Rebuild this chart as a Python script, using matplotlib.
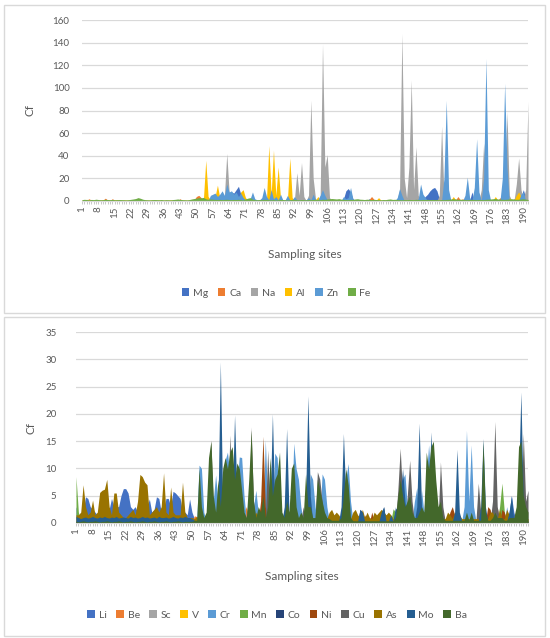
import matplotlib
matplotlib.use("Agg")
import matplotlib.pyplot as plt
from matplotlib.patches import Patch, Rectangle

plt.rcParams['font.family'] = ['Lato', 'DejaVu Sans']

# ---------------- data (one value per sampling site, 1..192) ----------------
sites = list(range(1, 193))
tick_sites = sites[::7]

top_names = ['Mg', 'Ca', 'Na', 'Al', 'Zn', 'Fe']
top_colours = ['#4472C4', '#ED7D31', '#A5A5A5', '#FFC000', '#5B9BD5', '#70AD47']

mg = [
    0.5, 0.5, 0.5, 0.5, 0.5, 0.5, 0.5, 0.5, 0.5, 0.5, 0.5, 0.5, 0.5, 0.5, 0.5, 0.5,
    0.5, 0.5, 0.5, 0.5, 0.5, 0.5, 0.5, 0.5, 0.5, 0.5, 0.5, 0.5, 0.5, 0.5, 0.5, 0.5,
    0.5, 0.5, 0.5, 0.5, 0.5, 0.5, 0.5, 0.5, 0.5, 0.5, 0.5, 0.5, 0.5, 0.5, 0.5, 0.5,
    0.5, 0.5, 0.5, 0.5, 0.5, 0.5, 0.5, 0.5, 0.5, 0.5, 0.5, 0.5, 0.5, 0.5, 0.5, 6,
    8, 7, 10, 13, 6, 2, 0.5, 0.5, 0.5, 0.5, 0.5, 0.5, 0.5, 0.5, 4, 0.5,
    0.5, 0.5, 0.5, 0.5, 0.5, 0.5, 0.5, 0.5, 0.5, 0.5, 0.5, 0.5, 0.5, 0.5, 0.5, 0.5,
    0.5, 0.5, 0.5, 0.5, 0.5, 0.5, 0.5, 0.5, 0.5, 0.5, 0.5, 0.5, 0.5, 0.5, 0.5, 0.5,
    2, 9, 11, 8, 2, 0.5, 0.5, 0.5, 0.5, 0.5, 0.5, 2, 0.5, 0.5, 0.5, 0.5,
    0.5, 0.5, 0.5, 0.5, 0.5, 0.5, 0.5, 0.5, 0.5, 0.5, 0.5, 0.5, 0.5, 0.5, 0.5, 0.5,
    1, 3, 2, 4, 6, 9, 11, 12, 9, 2, 0.5, 0.5, 0.5, 0.5, 0.5, 0.5,
    0.5, 0.5, 0.5, 0.5, 0.5, 0.5, 0.5, 8, 0.5, 0.5, 0.5, 0.5, 0.5, 0.5, 0.5, 0.5,
    0.5, 0.5, 0.5, 0.5, 0.5, 0.5, 0.5, 0.5, 0.5, 0.5, 0.5, 0.5, 4, 10, 3, 0.5,
]
ca = [
    0.5, 0.6, 0.8, 2, 0.8, 0.5, 0.6, 0.5, 0.7, 0.9, 2.5, 0.8, 0.6, 2, 0.7, 0.5,
    0.5, 0.5, 0.5, 0.5, 0.5, 0.5, 0.5, 0.5, 0.5, 0.5, 0.5, 0.5, 0.5, 0.5, 0.5, 0.5,
    0.5, 0.5, 0.5, 0.5, 0.5, 0.5, 0.5, 0.5, 0.5, 0.5, 2, 0.5, 0.5, 0.5, 0.5, 0.5,
    1, 4, 5, 3, 1, 0.5, 0.5, 0.5, 0.5, 0.5, 0.5, 0.5, 0.5, 0.5, 0.5, 0.5,
    0.5, 0.5, 0.5, 0.5, 0.5, 0.5, 0.5, 0.5, 0.5, 0.5, 0.5, 0.5, 0.5, 0.5, 0.5, 0.5,
    0.5, 0.5, 0.5, 0.5, 0.5, 0.5, 0.5, 0.5, 0.5, 0.5, 0.5, 0.5, 0.5, 0.5, 0.5, 0.5,
    0.5, 0.5, 0.5, 0.5, 0.5, 0.5, 0.5, 0.5, 0.5, 0.5, 0.5, 0.5, 0.5, 0.5, 0.5, 0.5,
    0.5, 0.5, 0.5, 0.5, 0.5, 0.5, 0.5, 0.5, 0.5, 0.5, 0.5, 1.5, 4, 1.5, 0.5, 0.5,
    0.5, 0.5, 0.5, 0.5, 0.5, 0.5, 0.5, 0.5, 0.5, 0.5, 0.5, 0.5, 0.5, 0.5, 0.5, 0.5,
    0.5, 0.5, 0.5, 0.5, 0.5, 0.5, 0.5, 0.5, 0.5, 0.5, 0.5, 0.5, 0.5, 0.5, 0.5, 3,
    1, 4, 1, 2, 0.5, 0.5, 0.5, 0.5, 0.5, 0.5, 0.5, 0.5, 0.5, 0.5, 0.5, 0.5,
    0.5, 3, 0.5, 3, 0.5, 0.5, 0.5, 0.5, 0.5, 2, 0.5, 0.5, 0.5, 0.5, 0.5, 0.5,
]
na = [
    0.3, 0.3, 0.3, 0.3, 0.3, 0.3, 0.3, 0.3, 0.3, 0.3, 0.3, 0.3, 0.3, 0.3, 0.3, 0.3,
    0.3, 0.3, 0.3, 0.3, 0.3, 0.3, 0.3, 0.3, 0.3, 0.3, 0.3, 0.3, 0.3, 0.3, 0.3, 0.3,
    0.3, 0.3, 0.3, 0.3, 0.3, 0.3, 0.3, 0.3, 0.3, 0.3, 0.3, 0.3, 0.3, 0.3, 0.3, 0.3,
    0.3, 0.3, 0.3, 0.3, 0.3, 0.3, 0.3, 0.3, 0.3, 0.3, 0.3, 0.3, 0.3, 5, 42, 8,
    0.3, 0.3, 0.3, 0.3, 0.3, 0.3, 0.3, 0.3, 0.3, 0.3, 0.3, 0.3, 0.3, 0.3, 0.3, 0.3,
    0.3, 0.3, 0.3, 0.3, 0.3, 0.3, 0.3, 0.3, 0.3, 0.3, 0.3, 2, 25, 5, 34, 4,
    0.3, 5, 89, 20, 2, 0.3, 5, 139, 30, 41, 3, 0.3, 0.3, 0.3, 0.3, 0.3,
    0.3, 0.3, 0.3, 0.3, 0.3, 0.3, 0.3, 0.3, 0.3, 0.3, 0.3, 0.3, 0.3, 0.3, 0.3, 0.3,
    0.3, 0.3, 0.3, 0.3, 0.3, 0.3, 0.3, 1, 10, 148, 20, 3, 30, 107, 10, 48,
    5, 0.3, 0.3, 0.3, 0.3, 0.3, 0.3, 0.3, 0.3, 5, 66, 5, 0.3, 0.3, 0.3, 0.3,
    0.3, 0.3, 0.3, 0.3, 0.3, 0.3, 0.3, 0.3, 0.3, 0.3, 0.3, 10, 51, 20, 0.3, 0.3,
    0.3, 0.3, 0.3, 0.3, 0.3, 8, 79, 5, 0.3, 0.3, 15, 38, 10, 2, 10, 88,
]
al = [
    0.8, 0.9, 1.5, 0.8, 0.7, 0.8, 1.0, 0.8, 0.7, 0.9, 0.8, 1.2, 0.8, 0.7, 0.9, 1.2,
    0.8, 0.7, 0.9, 0.8, 0.8, 1.0, 0.8, 0.7, 0.8, 0.9, 0.8, 0.8, 0.7, 0.8, 0.9, 0.8,
    0.8, 0.9, 0.8, 0.7, 0.8, 0.8, 1.0, 0.8, 0.7, 0.8, 0.9, 0.8, 0.8, 0.7, 0.8, 0.9,
    0.8, 0.8, 0.8, 0.8, 2, 36, 4, 1, 1, 4, 14, 3, 0.8, 0.8, 0.8, 0.8,
    0.8, 0.8, 0.8, 0.8, 8, 10, 3, 0.8, 0.8, 0.8, 0.8, 0.8, 0.8, 0.8, 0.8, 0.8,
    49, 6, 45, 5, 30, 3, 1, 1, 2, 38, 3, 0.8, 0.8, 0.8, 0.8, 0.8,
    0.8, 0.8, 0.8, 0.8, 0.8, 4, 0.8, 0.8, 0.8, 0.8, 0.8, 0.8, 0.8, 0.8, 0.8, 0.8,
    0.8, 0.8, 0.8, 0.8, 0.8, 0.8, 0.8, 0.8, 0.8, 0.8, 0.8, 0.8, 0.8, 0.8, 0.8, 3,
    0.8, 0.8, 0.8, 0.8, 0.8, 0.8, 0.8, 0.8, 0.8, 0.8, 0.8, 0.8, 0.8, 0.8, 0.8, 0.8,
    0.8, 0.8, 0.8, 0.8, 0.8, 0.8, 0.8, 0.8, 0.8, 0.8, 0.8, 0.8, 0.8, 0.8, 0.8, 4,
    0.8, 0.8, 0.8, 0.8, 0.8, 0.8, 0.8, 0.8, 0.8, 0.8, 0.8, 0.8, 0.8, 0.8, 0.8, 0.8,
    0.8, 4, 0.8, 0.8, 0.8, 0.8, 0.8, 3, 0.8, 0.8, 5, 8, 4, 0.8, 0.8, 0.8,
]
zn = [
    0.3, 0.3, 0.3, 0.3, 0.3, 0.3, 0.3, 0.3, 0.3, 0.3, 0.3, 0.3, 0.3, 0.3, 0.3, 0.3,
    0.3, 0.3, 0.3, 0.3, 0.3, 0.3, 0.3, 0.3, 0.3, 0.3, 0.3, 0.3, 0.3, 0.3, 0.3, 0.3,
    0.3, 0.3, 0.3, 0.3, 0.3, 0.3, 0.3, 0.3, 0.3, 0.3, 0.3, 0.3, 0.3, 0.3, 0.3, 0.3,
    0.3, 0.3, 0.3, 0.3, 0.3, 0.3, 0.3, 5, 6, 7, 4, 6, 9, 5, 15, 8,
    9, 6, 8, 4, 7, 3, 1, 1, 2, 8, 2, 1, 1, 3, 12, 4,
    1, 10, 2, 4, 1, 6, 1, 1, 5, 1, 1, 4, 1, 1, 1, 1,
    1, 3, 1, 6, 1, 1, 5, 10, 5, 1, 0.5, 0.5, 0.5, 0.5, 0.5, 0.5,
    4, 2, 3, 12, 2, 0.5, 0.5, 0.5, 0.5, 0.5, 0.5, 0.5, 0.5, 0.5, 0.5, 0.5,
    0.3, 0.3, 0.3, 0.3, 0.3, 0.3, 0.3, 3, 11, 5, 0.3, 0.3, 0.3, 0.3, 0.3, 0.3,
    2, 15, 6, 3, 0.3, 0.3, 0.3, 0.3, 0.3, 0.3, 0.3, 20, 89, 10, 0.3, 0.3,
    0.3, 0.3, 0.3, 0.3, 5, 21, 3, 0.3, 12, 55, 8, 0.3, 20, 126, 10, 0.3,
    0.3, 0.3, 0.3, 0.3, 20, 104, 30, 0.3, 0.3, 0.3, 0.3, 0.3, 6, 8, 0.3, 0.3,
]
fe = [
    1.2, 1.5, 1.3, 1.0, 1.4, 1.2, 1.6, 1.3, 1.1, 1.2, 1.5, 1.3, 1.2, 1.4, 1.1, 1.2,
    1.3, 1.2, 1.1, 1.0, 1.2, 1.5, 1.8, 2.2, 3.0, 2.4, 1.6, 1.2, 1.1, 1.0, 1.2, 1.3,
    1.2, 1.1, 1.3, 1.0, 1.2, 1.1, 1.0, 1.3, 1.5, 1.8, 1.4, 1.2, 1.1, 1.0, 1.3, 1.8,
    2.2, 2.5, 3.0, 2.8, 3.2, 2.0, 1.5, 1.8, 1.6, 1.4, 1.3, 1.5, 1.2, 1.4, 1.5, 1.3,
    1.2, 1.4, 1.3, 1.5, 1.2, 1.0, 1.8, 2.5, 3.0, 1.6, 1.2, 1.1, 1.3, 1.2, 1.5, 1.4,
    1.2, 1.1, 1.3, 1.0, 1.2, 1.4, 1.3, 1.1, 1.0, 1.2, 1.4, 1.3, 1.2, 1.1, 1.3, 1.2,
    1.1, 1.3, 1.2, 1.4, 1.5, 1.3, 1.2, 1.6, 1.4, 1.8, 2.0, 2.2, 2.0, 1.8, 2.1, 1.6,
    1.4, 1.3, 1.2, 1.5, 1.4, 1.8, 2.0, 1.6, 1.5, 1.3, 1.6, 1.4, 1.2, 1.5, 1.3, 1.2,
    1.1, 1.3, 1.2, 1.6, 1.8, 1.4, 1.5, 1.3, 1.2, 1.1, 1.3, 1.2, 1.4, 1.3, 1.2, 1.5,
    1.3, 1.2, 1.4, 1.3, 1.5, 1.2, 1.4, 1.3, 1.2, 1.1, 1.3, 1.2, 1.4, 1.5, 1.8, 2.0,
    1.8, 1.5, 1.6, 1.4, 1.3, 1.2, 1.4, 1.5, 1.3, 1.2, 1.4, 1.3, 1.2, 1.5, 1.6, 1.8,
    2.0, 2.2, 1.8, 1.6, 1.5, 1.4, 1.6, 1.8, 2.0, 1.7, 1.5, 1.6, 1.8, 2.0, 1.6, 1.4,
]

bot_names = ['Li', 'Be', 'Sc', 'V', 'Cr', 'Mn', 'Co', 'Ni', 'Cu', 'As', 'Mo', 'Ba']
bot_colours = ['#4472C4', '#ED7D31', '#A5A5A5', '#FFC000', '#5B9BD5', '#70AD47',
               '#264478', '#9E480E', '#636363', '#997300', '#255E91', '#43682B']

li = [
    3, 1.5, 1.5, 2, 4.8, 4.5, 3, 2.5, 2, 1.5, 2, 2, 1.5, 2, 2.5, 4.5,
    3, 3, 3, 5, 6.3, 6.3, 5.5, 3, 2.5, 3, 2, 2, 2, 2, 3, 4.4,
    2, 2.5, 4.8, 4.5, 2, 2, 4.5, 4.5, 3, 5.8, 5.5, 5, 4.5, 2, 2, 1.5,
    4.4, 2, 0.8, 0.5, 0.5, 0.5, 0.5, 0.5, 0.5, 0.5, 0.5, 0.5, 0.5, 0.5, 0.5, 0.5,
    0.5, 0.5, 0.5, 0.5, 0.5, 0.5, 0.5, 0.5, 0.5, 0.5, 0.5, 0.5, 0.5, 0.5, 0.5, 0.5,
    0.5, 0.5, 0.5, 0.5, 0.5, 0.5, 0.5, 0.5, 0.5, 0.5, 0.5, 0.5, 0.5, 0.5, 0.5, 0.5,
    0.5, 0.5, 0.5, 0.5, 0.5, 0.5, 0.5, 0.5, 0.5, 0.5, 0.5, 0.5, 0.5, 0.5, 0.5, 0.5,
    0.5, 0.5, 0.5, 0.5, 0.5, 0.5, 0.5, 0.5, 0.5, 0.5, 0.5, 0.5, 0.5, 0.5, 0.5, 0.5,
    0.5, 0.5, 0.5, 0.5, 0.5, 0.5, 0.5, 0.5, 0.5, 0.5, 0.5, 0.5, 0.5, 0.5, 0.5, 0.5,
    0.5, 0.5, 0.5, 0.5, 0.5, 0.5, 0.5, 0.5, 0.5, 0.5, 0.5, 0.5, 0.5, 0.5, 0.5, 0.5,
    0.5, 0.5, 0.5, 0.5, 0.5, 0.5, 0.5, 0.5, 0.5, 0.5, 0.5, 0.5, 0.5, 0.5, 0.5, 0.5,
    0.5, 0.5, 0.5, 0.5, 0.5, 0.5, 0.5, 2, 5, 2, 0.5, 0.5, 0.5, 0.5, 0.5, 0.5,
]
be = [
    0.2, 0.2, 0.2, 0.2, 0.2, 0.2, 0.2, 0.2, 0.2, 0.2, 0.2, 0.2, 0.2, 0.2, 0.2, 0.2,
    0.2, 0.2, 0.2, 0.2, 0.2, 0.2, 0.2, 0.2, 0.2, 0.2, 0.2, 0.2, 0.2, 0.2, 0.2, 0.2,
    0.2, 0.2, 0.2, 0.2, 0.2, 0.2, 0.2, 0.2, 0.2, 0.2, 0.2, 0.2, 0.2, 0.2, 0.2, 0.2,
    0.2, 0.2, 1.3, 1.2, 0.2, 0.2, 0.2, 1.5, 0.2, 0.2, 0.2, 0.2, 0.2, 0.2, 0.2, 0.2,
    0.2, 0.2, 0.2, 0.2, 0.2, 0.2, 0.2, 2, 3, 1, 0.2, 0.2, 0.2, 0.2, 0.2, 0.2,
    0.2, 0.2, 0.2, 0.2, 0.2, 0.2, 0.2, 0.2, 0.2, 0.2, 0.2, 0.2, 0.2, 0.2, 0.2, 0.2,
    0.2, 0.2, 0.2, 0.2, 0.2, 0.2, 0.2, 0.2, 0.2, 0.2, 0.2, 0.2, 0.2, 0.2, 0.2, 0.2,
    0.2, 0.2, 0.2, 0.2, 0.2, 0.2, 0.2, 0.2, 0.2, 0.2, 0.2, 0.2, 0.2, 0.2, 0.2, 0.2,
    0.2, 0.2, 0.2, 0.2, 0.2, 0.2, 0.2, 0.2, 0.2, 0.2, 0.2, 0.2, 0.2, 0.2, 0.2, 0.2,
    0.2, 0.2, 0.2, 0.2, 0.2, 0.2, 0.2, 0.2, 0.2, 0.2, 0.2, 0.2, 0.2, 0.2, 0.2, 0.2,
    0.2, 0.2, 0.2, 0.2, 0.2, 0.2, 0.2, 0.2, 0.2, 0.2, 0.2, 0.2, 0.2, 0.2, 0.2, 0.2,
    0.2, 0.2, 0.2, 0.2, 0.2, 0.2, 0.2, 0.2, 0.2, 0.2, 0.2, 0.2, 0.2, 0.2, 0.2, 0.2,
]
sc = [
    0.3, 0.3, 0.3, 0.3, 0.3, 0.3, 0.3, 0.3, 0.3, 0.3, 0.3, 0.3, 0.3, 0.3, 0.3, 0.3,
    0.3, 0.3, 0.3, 0.3, 0.3, 0.3, 0.3, 0.3, 0.3, 0.3, 0.3, 0.3, 0.3, 0.3, 0.3, 0.3,
    0.3, 0.3, 0.3, 0.3, 0.3, 0.3, 0.3, 0.3, 0.3, 0.3, 0.3, 0.3, 0.3, 0.3, 0.3, 0.3,
    0.3, 0.3, 0.3, 0.3, 0.3, 0.3, 0.3, 0.3, 0.3, 0.3, 0.3, 0.3, 0.3, 0.3, 0.3, 0.3,
    0.3, 0.3, 0.3, 0.3, 0.3, 0.3, 0.3, 0.3, 0.3, 0.3, 0.3, 0.3, 0.3, 0.3, 0.3, 0.3,
    0.3, 0.3, 0.3, 0.3, 0.3, 0.3, 0.3, 0.3, 0.3, 0.3, 0.3, 0.3, 0.3, 0.3, 0.3, 0.3,
    0.3, 0.3, 0.3, 0.3, 0.3, 0.3, 0.3, 0.3, 0.3, 0.3, 0.3, 0.3, 0.3, 0.3, 0.3, 0.3,
    0.3, 0.3, 0.3, 0.3, 0.3, 0.3, 0.3, 0.3, 0.3, 0.3, 0.3, 0.3, 0.3, 0.3, 0.3, 0.3,
    0.3, 0.3, 0.3, 0.3, 0.3, 0.3, 0.3, 0.3, 0.3, 0.3, 0.3, 0.3, 0.3, 0.3, 0.3, 0.3,
    0.3, 0.3, 0.3, 0.3, 0.3, 0.3, 0.3, 0.3, 0.3, 0.3, 0.3, 0.3, 0.3, 0.3, 0.3, 0.3,
    0.3, 0.3, 0.3, 0.3, 0.3, 0.3, 0.3, 0.3, 0.3, 0.3, 0.3, 0.3, 0.3, 0.3, 0.3, 0.3,
    0.3, 0.3, 0.3, 0.3, 0.3, 0.3, 0.3, 0.3, 0.3, 0.3, 0.3, 0.3, 0.3, 0.3, 0.3, 0.3,
]
v = [
    0.3, 0.3, 0.3, 0.3, 0.3, 0.3, 0.3, 0.3, 0.3, 0.3, 0.3, 0.3, 0.3, 0.3, 0.3, 0.3,
    0.3, 0.3, 0.3, 0.3, 0.3, 0.3, 0.3, 0.3, 0.3, 0.3, 0.3, 0.3, 0.3, 0.3, 0.3, 0.3,
    0.3, 0.3, 0.3, 0.3, 0.3, 0.3, 0.3, 0.3, 0.3, 0.3, 0.3, 0.3, 0.3, 0.3, 0.3, 0.3,
    0.3, 0.3, 0.3, 0.3, 0.3, 0.3, 0.3, 0.3, 0.3, 0.3, 0.3, 0.3, 0.3, 0.3, 0.3, 0.3,
    0.3, 0.3, 0.3, 0.3, 0.3, 0.3, 0.3, 0.3, 0.3, 0.3, 0.3, 0.3, 0.3, 0.3, 0.3, 0.3,
    0.3, 0.3, 0.3, 0.3, 0.3, 0.3, 0.3, 0.3, 0.3, 0.3, 0.3, 0.3, 0.3, 0.3, 0.3, 0.3,
    0.3, 0.3, 0.3, 0.3, 0.3, 0.3, 0.3, 0.3, 0.3, 0.3, 0.3, 0.3, 0.3, 0.3, 0.3, 0.3,
    0.3, 0.3, 0.3, 0.3, 0.3, 0.3, 0.3, 0.3, 0.3, 0.3, 0.3, 0.3, 0.3, 0.3, 0.3, 0.3,
    0.3, 0.3, 0.3, 1.5, 0.3, 0.3, 0.3, 0.3, 0.3, 0.3, 0.3, 0.3, 0.3, 0.3, 0.3, 0.3,
    0.3, 0.3, 0.3, 0.3, 0.3, 0.3, 0.3, 0.3, 0.3, 0.3, 0.3, 0.3, 0.3, 0.3, 0.3, 0.3,
    0.3, 0.3, 0.3, 0.3, 0.3, 0.3, 0.3, 0.3, 0.3, 0.3, 0.3, 0.3, 0.3, 0.3, 0.3, 0.3,
    0.3, 0.3, 0.3, 0.3, 0.3, 0.3, 0.3, 0.3, 0.3, 0.3, 0.3, 0.3, 0.3, 0.3, 0.3, 0.3,
]
cr = [
    0.4, 0.4, 0.4, 0.4, 0.4, 0.4, 0.4, 0.4, 0.4, 0.4, 0.4, 0.4, 0.4, 0.4, 0.4, 0.4,
    0.4, 0.4, 0.4, 0.4, 0.4, 0.4, 0.4, 0.4, 0.4, 0.4, 0.4, 0.4, 0.4, 0.4, 0.4, 0.4,
    0.4, 0.4, 0.4, 0.4, 0.4, 0.4, 0.4, 0.4, 0.4, 0.4, 0.4, 0.4, 0.4, 0.4, 0.4, 0.4,
    0.4, 0.4, 0.4, 0.4, 10.6, 10, 2, 0.4, 0.4, 0.4, 4, 8.8, 4, 0.4, 8, 11.5,
    13, 9, 12, 4, 7, 12.1, 12, 5, 0.4, 0.4, 0.4, 3, 6, 2, 0.4, 0.4,
    15.2, 4, 0.4, 0.4, 12.8, 12, 4, 0.4, 0.4, 0.4, 0.4, 0.4, 14.6, 10, 8, 3,
    0.4, 0.4, 0.4, 9, 8, 3, 0.4, 0.4, 9, 8, 3, 0.4, 0.4, 0.4, 0.4, 0.4,
    0.4, 0.4, 8, 10.9, 4, 0.4, 0.4, 0.4, 0.4, 0.4, 0.4, 0.4, 0.4, 0.4, 0.4, 0.4,
    0.4, 0.4, 0.4, 0.4, 0.4, 0.4, 0.4, 0.4, 0.4, 0.4, 8, 9, 3, 0.4, 0.4, 4,
    6.5, 0.4, 6, 2, 8, 14.3, 8, 0.4, 0.4, 0.4, 0.4, 2, 0.4, 0.4, 0.4, 0.4,
    0.4, 0.4, 0.4, 0.4, 3, 17, 4, 14.3, 3, 0.4, 0.4, 0.4, 0.4, 0.4, 0.4, 0.4,
    0.4, 0.4, 0.4, 0.4, 0.4, 0.4, 3, 0.4, 3, 0.4, 2, 0.4, 0.4, 0.4, 0.4, 0.4,
]
mn = [
    8.5, 2, 0.3, 0.3, 0.3, 0.3, 0.3, 0.3, 0.3, 0.3, 0.3, 0.3, 0.3, 0.3, 0.3, 0.3,
    0.3, 0.3, 0.3, 0.3, 0.3, 0.3, 0.3, 0.3, 0.3, 0.3, 0.3, 0.3, 0.3, 0.3, 0.3, 0.3,
    0.3, 0.3, 0.3, 0.3, 0.3, 0.3, 0.3, 0.3, 0.3, 0.3, 0.3, 0.3, 0.3, 0.3, 0.3, 0.3,
    0.3, 0.3, 0.3, 0.3, 0.3, 0.3, 0.3, 0.3, 0.3, 0.3, 0.3, 0.3, 0.3, 0.3, 0.3, 0.3,
    0.3, 0.3, 0.3, 0.3, 0.3, 0.3, 0.3, 0.3, 0.3, 0.3, 0.3, 0.3, 0.3, 0.3, 0.3, 0.3,
    0.3, 0.3, 0.3, 0.3, 0.3, 0.3, 0.3, 0.3, 0.3, 0.3, 0.3, 0.3, 0.3, 0.3, 0.3, 0.3,
    0.3, 0.3, 0.3, 0.3, 0.3, 0.3, 0.3, 0.3, 0.3, 0.3, 0.3, 0.3, 0.3, 0.3, 0.3, 0.3,
    0.3, 0.3, 0.3, 0.3, 0.3, 0.3, 0.3, 0.3, 0.3, 0.3, 0.3, 0.3, 0.3, 0.3, 0.3, 0.3,
    0.3, 0.3, 0.3, 0.3, 0.3, 0.3, 2.6, 2, 0.3, 0.3, 0.3, 0.3, 0.3, 0.3, 0.3, 0.3,
    0.3, 0.3, 0.3, 0.3, 0.3, 0.3, 0.3, 0.3, 0.3, 0.3, 0.3, 0.3, 0.3, 0.3, 0.3, 0.3,
    0.3, 0.3, 0.3, 0.3, 0.3, 0.3, 0.3, 0.3, 0.3, 0.3, 0.3, 0.3, 0.3, 0.3, 0.3, 0.3,
    0.3, 0.3, 0.3, 3, 7.3, 2, 0.3, 0.3, 0.3, 0.3, 0.3, 0.3, 0.3, 0.3, 0.3, 0.3,
]
co = [
    0.2, 0.2, 0.2, 0.2, 0.2, 0.2, 0.2, 0.2, 0.2, 0.2, 0.2, 0.2, 0.2, 0.2, 0.2, 0.2,
    0.2, 0.2, 0.2, 0.2, 0.2, 0.2, 0.2, 0.2, 0.2, 0.2, 0.2, 0.2, 0.2, 0.2, 0.2, 0.2,
    0.2, 0.2, 0.2, 0.2, 0.2, 0.2, 0.2, 0.2, 0.2, 0.2, 0.2, 0.2, 0.2, 0.2, 0.2, 0.2,
    0.2, 0.2, 0.2, 0.2, 0.2, 0.2, 0.2, 0.2, 0.2, 0.2, 0.2, 0.2, 0.2, 0.2, 0.2, 0.2,
    0.2, 0.2, 0.2, 0.2, 0.2, 0.2, 0.2, 0.2, 0.2, 0.2, 0.2, 0.2, 0.2, 0.2, 0.2, 0.2,
    0.2, 0.2, 0.2, 0.2, 0.2, 0.2, 0.2, 0.2, 0.2, 0.2, 0.2, 0.2, 0.2, 0.2, 0.2, 0.2,
    0.2, 0.2, 0.2, 0.2, 0.2, 0.2, 0.2, 0.2, 0.2, 0.2, 0.2, 0.2, 0.2, 0.2, 0.2, 0.2,
    0.2, 0.2, 0.2, 0.2, 0.2, 0.2, 0.2, 0.2, 2.5, 2, 0.2, 0.2, 0.2, 0.2, 0.2, 0.2,
    0.2, 0.2, 3, 0.2, 0.2, 0.2, 0.2, 2.5, 3, 0.2, 0.2, 0.2, 0.2, 0.2, 0.2, 0.2,
    0.2, 0.2, 0.2, 0.2, 0.2, 0.2, 0.2, 0.2, 0.2, 0.2, 0.2, 0.2, 0.2, 0.2, 0.2, 0.2,
    0.2, 0.2, 0.2, 0.2, 0.2, 0.2, 0.2, 0.2, 0.2, 0.2, 0.2, 0.2, 0.2, 0.2, 0.2, 0.2,
    0.2, 0.2, 0.2, 0.2, 0.2, 0.2, 0.2, 0.2, 3, 0.2, 0.2, 0.2, 0.2, 0.2, 0.2, 0.2,
]
ni = [
    0.2, 0.2, 0.2, 0.2, 0.2, 0.2, 0.2, 0.2, 0.2, 0.2, 0.2, 0.2, 0.2, 0.2, 0.2, 0.2,
    0.2, 0.2, 0.2, 0.2, 0.2, 0.2, 0.2, 0.2, 0.2, 0.2, 0.2, 0.2, 0.2, 0.2, 0.2, 0.2,
    0.2, 0.2, 0.2, 0.2, 0.2, 0.2, 0.2, 0.2, 0.2, 0.2, 0.2, 0.2, 0.2, 0.2, 0.2, 0.2,
    0.2, 0.2, 0.2, 0.2, 0.2, 0.2, 0.2, 0.2, 0.2, 0.2, 0.2, 0.2, 0.2, 0.2, 0.2, 0.2,
    0.2, 0.2, 0.2, 0.2, 0.2, 0.2, 0.2, 0.2, 0.2, 0.2, 0.2, 0.2, 0.2, 0.2, 4, 15.9,
    3, 0.2, 0.2, 0.2, 0.2, 0.2, 0.2, 0.2, 0.2, 0.2, 0.2, 0.2, 0.2, 0.2, 0.2, 0.2,
    0.2, 0.2, 0.2, 0.2, 0.2, 0.2, 0.2, 0.2, 0.2, 0.2, 0.2, 0.2, 0.2, 0.2, 0.2, 0.2,
    0.2, 0.2, 0.2, 0.2, 0.2, 0.2, 1.5, 0.2, 0.2, 0.2, 1.5, 0.2, 0.2, 2, 0.2, 0.2,
    0.2, 0.2, 0.2, 0.2, 0.2, 0.2, 0.2, 0.2, 0.2, 0.2, 0.2, 0.2, 0.2, 0.2, 0.2, 0.2,
    0.2, 0.2, 0.2, 0.2, 0.2, 0.2, 0.2, 0.2, 0.2, 0.2, 0.2, 0.2, 0.2, 0.2, 2, 3,
    1.5, 0.2, 0.2, 0.2, 0.2, 0.2, 0.2, 0.2, 0.2, 0.2, 0.2, 0.2, 0.2, 0.2, 3, 2.5,
    0.2, 0.2, 3, 0.2, 2.5, 2, 0.2, 0.2, 0.2, 0.2, 0.2, 0.2, 0.2, 0.2, 0.2, 0.2,
]
cu = [
    0.3, 0.3, 0.3, 0.3, 0.3, 0.3, 0.3, 0.3, 0.3, 0.3, 0.3, 0.3, 0.3, 0.3, 0.3, 0.3,
    0.3, 0.3, 0.3, 0.3, 0.3, 0.3, 0.3, 0.3, 0.3, 0.3, 0.3, 0.3, 0.3, 0.3, 0.3, 0.3,
    0.3, 0.3, 0.3, 0.3, 0.3, 0.3, 0.3, 0.3, 0.3, 0.3, 0.3, 0.3, 0.3, 0.3, 0.3, 0.3,
    0.3, 0.3, 0.3, 0.3, 0.3, 0.3, 0.3, 0.3, 8, 15.2, 3, 0.3, 0.3, 0.3, 0.3, 0.3,
    0.3, 16.1, 6, 0.3, 0.3, 0.3, 0.3, 0.3, 0.3, 0.3, 17.6, 4, 0.3, 0.3, 0.3, 0.3,
    0.3, 13.4, 3, 0.3, 0.3, 0.3, 0.3, 0.3, 0.3, 0.3, 0.3, 0.3, 0.3, 0.3, 0.3, 0.3,
    3, 0.3, 0.3, 0.3, 0.3, 0.3, 9.4, 8, 4, 0.3, 0.3, 0.3, 0.3, 0.3, 0.3, 0.3,
    0.3, 0.3, 0.3, 0.3, 0.3, 0.3, 0.3, 0.3, 0.3, 0.3, 0.3, 0.3, 0.3, 0.3, 0.3, 0.3,
    0.3, 0.3, 0.3, 0.3, 0.3, 0.3, 0.3, 0.3, 6, 13.7, 5, 0.3, 5, 11.5, 4, 0.3,
    0.3, 0.3, 0.3, 0.3, 0.3, 0.3, 0.3, 0.3, 0.3, 0.3, 11.2, 3, 0.3, 0.3, 0.3, 0.3,
    0.3, 0.3, 0.3, 0.3, 0.3, 0.3, 0.3, 0.3, 0.3, 0.3, 7.3, 2, 0.3, 0.3, 0.3, 0.3,
    4, 18.6, 3, 0.3, 0.3, 0.3, 0.3, 0.3, 0.3, 0.3, 0.3, 0.3, 0.3, 16.4, 4, 6,
]
as_ = [
    1.5, 1.5, 2, 7, 3, 1.5, 2, 4.2, 1.5, 2, 5.6, 6, 6.2, 8, 3, 1.5,
    5.5, 5.5, 2, 1.5, 1, 1, 1.5, 2, 2.5, 1.5, 4, 8.9, 8.5, 7.5, 7, 1.5,
    2, 2.5, 3, 2, 3, 9.2, 2, 1.5, 6.6, 2, 1.5, 1.5, 1.5, 7.5, 2, 1,
    1, 1, 0.8, 1.2, 0.8, 0.8, 0.8, 1.5, 0.8, 0.8, 0.8, 0.8, 0.8, 0.8, 0.8, 0.8,
    0.8, 0.8, 0.8, 0.8, 0.8, 0.8, 0.8, 0.8, 0.8, 0.8, 0.8, 0.8, 2, 0.8, 0.8, 0.8,
    0.8, 0.8, 0.8, 0.8, 0.8, 0.8, 0.8, 0.8, 0.8, 0.8, 0.8, 0.8, 0.8, 0.8, 0.8, 0.8,
    0.8, 0.8, 0.8, 0.8, 0.8, 0.8, 0.8, 0.8, 0.8, 0.8, 0.8, 2, 2.5, 1.5, 2, 1.5,
    0.8, 0.8, 0.8, 0.8, 0.8, 2, 2.5, 1.5, 1, 2.5, 1, 2, 1, 0.8, 2, 1.5,
    2, 2.5, 2, 1.5, 2, 1.5, 0.8, 0.8, 0.8, 0.8, 0.8, 0.8, 0.8, 0.8, 0.8, 0.8,
    0.8, 0.8, 0.8, 0.8, 0.8, 0.8, 0.8, 0.8, 0.8, 0.8, 0.8, 0.8, 0.8, 2, 1.5, 0.8,
    2, 0.8, 1.5, 0.8, 0.8, 0.8, 0.8, 0.8, 0.8, 0.8, 0.8, 0.8, 0.8, 0.8, 0.8, 2,
    2, 0.8, 0.8, 2.5, 0.8, 0.8, 2.5, 1.5, 0.8, 0.8, 0.8, 0.8, 0.8, 0.8, 0.8, 0.8,
]
mo = [
    1.2, 1.0, 0.8, 1.0, 1.1, 0.9, 1.0, 1.2, 1.0, 0.9, 1.1, 1.0, 1.2, 1.0, 0.9, 1.1,
    1.0, 1.2, 0.9, 1.0, 1.1, 1.0, 0.9, 1.2, 1.0, 1.1, 0.9, 1.0, 1.2, 1.0, 1.1, 0.9,
    1.0, 1.1, 0.9, 1.2, 1.0, 1.0, 1.1, 0.9, 1.0, 1.2, 1.0, 0.9, 1.1, 1.0, 1.2, 1.0,
    1.0, 0.8, 0.5, 0.3, 0.3, 0.3, 0.3, 0.3, 0.3, 0.3, 0.3, 0.3, 3, 29.5, 3, 0.3,
    0.3, 0.3, 4, 19.8, 5, 0.3, 0.3, 0.3, 0.3, 0.3, 0.3, 0.3, 0.3, 0.3, 0.3, 0.3,
    0.3, 0.3, 3, 20, 3, 0.3, 0.3, 0.3, 3, 17.3, 2, 0.3, 0.3, 0.3, 0.3, 0.3,
    0.3, 4, 23.3, 5, 0.3, 0.3, 0.3, 0.3, 0.3, 0.3, 0.3, 0.3, 0.3, 0.3, 0.3, 0.3,
    3, 16.4, 5, 0.3, 0.3, 0.3, 0.3, 0.3, 2.5, 2, 0.3, 0.3, 0.3, 0.3, 0.3, 0.3,
    0.3, 2, 3, 0.3, 0.3, 1.5, 0.3, 3, 0.3, 5, 10, 4, 0.3, 0.3, 0.3, 0.3,
    3, 18.3, 3, 0.3, 0.3, 5, 16.7, 4, 0.3, 0.3, 0.3, 0.3, 0.3, 0.3, 0.3, 0.3,
    2, 13.5, 2, 0.3, 0.3, 0.3, 0.3, 0.3, 0.3, 0.3, 0.3, 3, 15.5, 3, 0.3, 0.3,
    0.3, 0.3, 0.3, 0.3, 0.3, 0.3, 0.3, 2, 5, 0.3, 0.3, 8, 24, 4, 0.3, 0.3,
]
ba = [
    0.3, 0.2, 0.3, 0.4, 0.3, 0.2, 0.3, 0.3, 0.4, 0.3, 0.2, 0.3, 0.3, 0.4, 0.3, 0.2,
    0.3, 0.3, 0.4, 0.3, 0.2, 0.3, 0.3, 0.4, 0.3, 0.2, 0.3, 0.3, 0.4, 0.3, 0.2, 0.3,
    0.3, 0.4, 0.3, 0.2, 0.3, 0.3, 0.4, 0.3, 0.2, 0.3, 0.3, 0.4, 0.3, 0.2, 0.3, 0.3,
    0.3, 0.3, 0.5, 0.5, 10, 3, 1, 2, 12, 15, 5, 2, 8, 3, 10, 12,
    10, 13, 14, 8, 11, 10, 6, 2, 1, 8, 17, 4, 1, 3, 2, 5,
    1, 3, 12, 5, 8, 9, 13, 2, 1, 4, 2, 10, 11, 3, 1, 2,
    1, 9, 3, 3, 1, 1, 8, 6, 4, 2, 1, 0.8, 0.5, 0.5, 0.5, 0.5,
    1, 5, 10, 7, 1, 0.4, 0.4, 0.4, 0.4, 0.4, 0.4, 0.4, 0.4, 0.4, 0.4, 0.4,
    0.4, 0.4, 0.4, 0.4, 0.4, 0.4, 0.4, 1, 5, 8, 5, 3, 4, 5, 2, 1,
    1, 2, 3, 2, 13, 10, 14, 15, 8, 3, 4, 1, 0.5, 0.5, 0.5, 0.5,
    0.5, 0.5, 0.5, 0.5, 0.5, 2, 0.5, 2, 0.5, 0.5, 0.5, 0.5, 15, 2, 0.5, 0.5,
    1, 2, 1, 1, 1, 0.5, 0.5, 1, 1, 1, 3, 14, 15, 5, 3, 2,
]

top_series = [mg, ca, na, al, zn, fe]
bot_series = [li, be, sc, v, cr, mn, co, ni, cu, as_, mo, ba]

GRID = '#D9D9D9'
TEXT = '#595959'
W, H = 550, 638


def __draw_panel(ax, series, colours, ymax: float, ystep: float, ypad: float) -> None:
    """Overlapping (non stacked) area chart, Excel style."""
    for vals, col in zip(series, colours):
        ax.fill_between(sites, 0, vals, color=col, lw=0, zorder=2)
    ax.set_xlim(1, 192)
    ax.set_ylim(0, ymax)
    ax.set_yticks([ystep * i for i in range(int(round(ymax / ystep)) + 1)])
    ax.yaxis.grid(True, color=GRID, lw=0.9)
    ax.set_axisbelow(True)
    for s in ['top', 'right', 'left']:
        ax.spines[s].set_visible(False)
    ax.spines['bottom'].set_color(GRID)
    ax.spines['bottom'].set_zorder(3)
    ax.set_xticks(tick_sites)
    ax.set_xticklabels([str(s) for s in tick_sites], rotation=90)
    ax.set_xticks(sites, minor=True)
    ax.tick_params(axis='x', which='both', length=2.5, width=0.6, color='#BFBFBF',
                   labelsize=7, labelcolor=TEXT, pad=1.5)
    ax.tick_params(axis='y', length=0, labelsize=7, labelcolor=TEXT, pad=ypad)


def __px(x: float, y: float):
    return x / W, 1 - y / H


fig = plt.figure(figsize=(5.5, 6.38), dpi=100)

# panel frames
fig.add_artist(Rectangle(__px(4, 313), 541 / W, 308 / H, transform=fig.transFigure,
                         fill=False, ec=GRID, lw=1))
fig.add_artist(Rectangle(__px(4, 636), 541 / W, 319 / H, transform=fig.transFigure,
                         fill=False, ec=GRID, lw=1))

ax1 = fig.add_axes([82 / W, 1 - 201 / H, (528 - 82) / W, (201 - 20) / H])
__draw_panel(ax1, top_series, top_colours, 160, 20, 9)

ax2 = fig.add_axes([76 / W, 1 - 523 / H, (528 - 76) / W, (523 - 332) / H])
__draw_panel(ax2, bot_series, bot_colours, 35, 5, 14)

# axis titles
fig.text(*__px(305, 255), 'Sampling sites', ha='center', va='center', fontsize=8.5, color=TEXT)
fig.text(*__px(30, 110), 'Cf', ha='center', va='center', rotation=90, fontsize=8.5, color=TEXT)
fig.text(*__px(302, 576), 'Sampling sites', ha='center', va='center', fontsize=8.5, color=TEXT)
fig.text(*__px(31, 428), 'Cf', ha='center', va='center', rotation=90, fontsize=8.5, color=TEXT)

# legends
for names, colours, pos in [(top_names, top_colours, __px(276, 293)),
                            (bot_names, bot_colours, __px(277, 615))]:
    handles = [Patch(facecolor=c, edgecolor='none') for c in colours]
    fig.legend(handles, names, loc='center', bbox_to_anchor=pos, ncol=len(names),
               frameon=False, fontsize=7.5, labelcolor=TEXT, handlelength=0.75,
               handleheight=0.75, handletextpad=0.35, columnspacing=0.9, borderpad=0)

fig.savefig('out.png', dpi=100)
